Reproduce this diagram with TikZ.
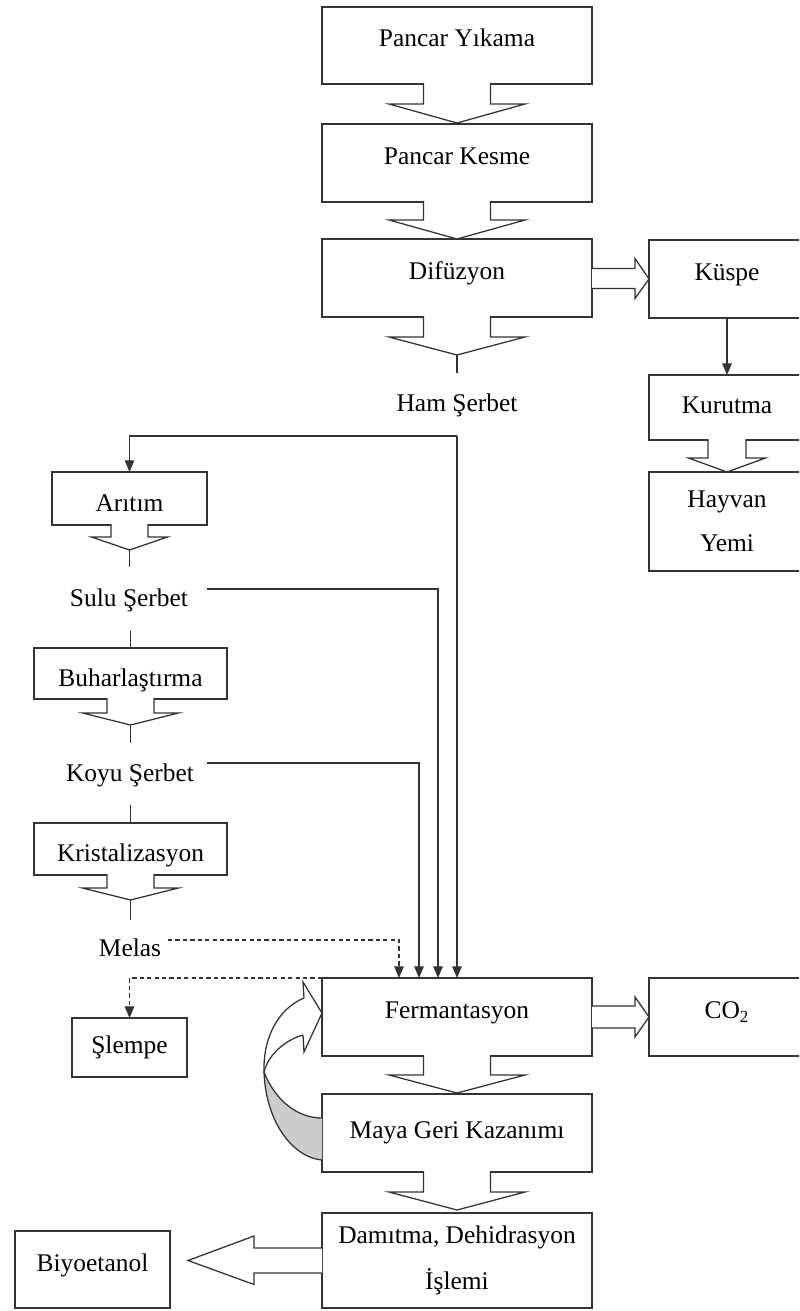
\documentclass[tikz,border=0pt]{standalone}
\usepackage{fontspec}
\setmainfont{Liberation Serif}
\usetikzlibrary{calc,arrows.meta}
\def\px{0.4717pt}

\begin{document}
\begin{tikzpicture}[x=\px,y=-\px]
  \tikzstyle{every node}=[font=\fontsize{12}{14.5}\selectfont,outer sep=0pt]
  \tikzstyle{stage}=[draw=black!80,line width=0.6pt,minimum width=270*\px,minimum height=78*\px,text height=8pt,text depth=2.5pt]
  \tikzstyle{hi}=[text height=9pt,text depth=7.6pt]
  \tikzstyle{lo}=[text height=14.6pt,text depth=2.5pt]
  \tikzstyle{line}=[draw=black!80,line width=0.6pt]
  \tikzstyle{arr}=[line,-{Triangle[length=5.5pt,width=4.5pt]}]
  \tikzstyle{dashline}=[arr,dash pattern=on 2pt off 1.5pt]
  \tikzstyle{blockarrow}=[line,fill=white,line join=miter]
  \useasboundingbox (0,0) rectangle (799,1311);
  \clip (0,0) rectangle (799,1311);
% main line
\node[stage,hi,minimum height=77*\px] (yikama) at (457,45.5) {Pancar Yıkama};
\node[stage,hi] (kesme) at (457,163) {Pancar Kesme};
\node[stage,hi] (difuzyon) at (457,278) {Difüzyon};
\node (ham) at (457,405) {Ham Şerbet};
\node[stage,hi,minimum width=156*\px] (kuspe) at (727,279) {Küspe};
\node[stage,minimum width=156*\px,minimum height=65*\px] (kurutma) at (727,407.5) {Kurutma};
\node[stage,minimum width=156*\px,minimum height=99*\px,align=center,text height=,text depth=] (hayvan) at (727,521.5) {Hayvan\\[6pt]Yemi};
% left column
\node[stage,lo,minimum width=155*\px,minimum height=53*\px] (aritim) at (129.5,498.5) {Arıtım};
\node (sulu) at (129,600) {Sulu Şerbet};
\node[stage,lo,minimum width=193*\px,minimum height=51*\px] (buhar) at (130.5,673.5) {Buharlaştırma};
\node (koyu) at (130,775) {Koyu Şerbet};
\node[stage,lo,minimum width=193*\px,minimum height=52*\px] (kristal) at (130.5,849) {Kristalizasyon};
\node (melas) at (130,948) {Melas};
\node[stage,minimum width=115*\px,minimum height=59*\px] (slempe) at (129.5,1047.5) {Şlempe};
% fermentation
\node[stage,hi] (ferm) at (457,1017) {Fermantasyon};
\node[stage,hi,minimum width=156*\px] (co2) at (727,1017) {CO\textsubscript{2}};
\node[stage] (maya) at (457,1133) {Maya Geri Kazanımı};
\node[stage,minimum height=95*\px,align=center,text height=,text depth=] (damitma) at (457,1260.5) {Damıtma, Dehidrasyon\\[7.5pt]İşlemi};
\node[stage,hi,minimum width=155*\px,minimum height=77*\px] (biyo) at (92.5,1269.5) {Biyoetanol};

\foreach \n/\s/\w/\l/\h in {yikama/33.5/68/20/19, kesme/33.5/68/18/19, difuzyon/33.5/68/20/18,
    kurutma/19/38.5/18/14, aritim/18.5/38/12/13, buhar/23.5/48/14/12, kristal/23.5/48/13/12,
    ferm/33.5/68/19/18, maya/33.5/68/20/18}
  \filldraw[blockarrow] ($(\n.south)+(-\s,-1)$) -- ($(\n.south)+(-\s,\l)$) -- ($(\n.south)+(-\w,\l)$)
    -- ($(\n.south)+(0,\l+\h)$) coordinate (\n-tip) -- ($(\n.south)+(\w,\l)$) -- ($(\n.south)+(\s,\l)$)
    -- ($(\n.south)+(\s,-1)$);

\draw[line] (difuzyon-tip) -- ++(0,18);
\draw[line] (aritim-tip) -- ++(0,17);
\draw[line] (buhar.north) -- ++(0,-17);
\draw[line] (buhar-tip) -- ++(0,18);
\draw[line] (kristal.north) -- ++(0,-18);
\draw[line] (kristal-tip) -- ++(0,20);

\coordinate (hamc) at (457,436);
\coordinate (suluout) at (207,589);
\coordinate (koyuout) at (207,763);
\coordinate (melasout) at (168,940);
\draw[arr] (hamc) -| (aritim.north);
\draw[arr] (hamc) -- (ferm.north -| hamc);
\draw[arr] (suluout) -| ($(ferm.north west)+(116,0)$);
\draw[arr] (koyuout) -| ($(ferm.north west)+(97,0)$);
\draw[dashline] (melasout) -| ($(ferm.north west)+(77,0)$);
\draw[dashline] (ferm.north west) -| (slempe.north);
\draw[arr] (kuspe.south) -- (kurutma.north);

\filldraw[blockarrow] ($(difuzyon.east)+(0,-9.5)$) -- ++(43,0) -- ++(0,-10) -- (kuspe.west)
  -- ++(-14,19.5) -- ++(0,-10) -- ++(-43,0);
\filldraw[blockarrow] ($(ferm.east)+(0,-11)$) -- ++(43,0) -- ++(0,-9) -- (co2.west)
  -- ++(-14,20) -- ++(0,-9) -- ++(-43,0);
\filldraw[blockarrow] ($(damitma.west)+(0,-12.5)$) -- ++(-68,0) -- ++(0,-12) -- ($(damitma.west)+(-134,0)$)
  -- ($(damitma.west)+(-68,24)$) -- ++(0,-11.5) -- ++(68,0);

% yeast return
\fill[black!20] (264,1072) .. controls (266,1125) and (295,1158) .. (322,1160) -- (322,1118)
  .. controls (297,1118) and (275,1100) .. (264,1072) -- cycle;
\draw[line] (304,998) .. controls (280,1008) and (263,1035) .. (264,1072)
  .. controls (266,1125) and (295,1158) .. (322,1160);
\draw[line] (303,1035) .. controls (285,1040) and (268,1055) .. (264,1072)
  .. controls (275,1100) and (297,1118) .. (322,1118);
\draw[line,line join=miter] (304,998) -- (303,982) -- (ferm.west |- 0,1013) -- (304,1052) -- (303,1035);
\end{tikzpicture}
\end{document}
